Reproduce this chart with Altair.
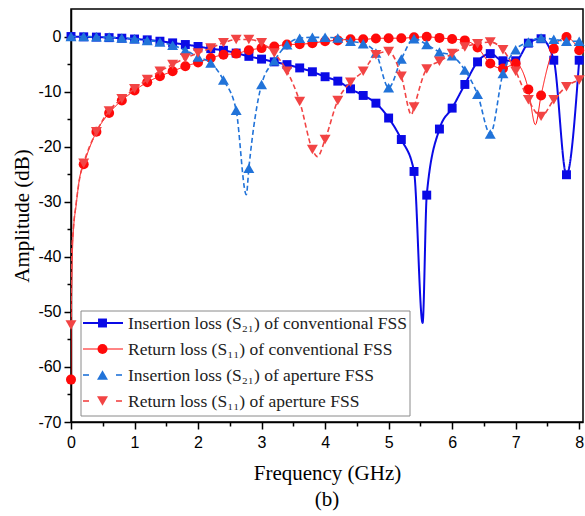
import altair as alt
import pandas as pd

# ---------------- data ----------------
freq = [0.0, 0.2, 0.4, 0.6, 0.8, 1.0, 1.2, 1.4, 1.6, 1.8, 2.0, 2.2, 2.4, 2.6, 2.8,
        3.0, 3.2, 3.4, 3.6, 3.8, 4.0, 4.2, 4.4, 4.6, 4.8, 5.0, 5.2, 5.4, 5.6, 5.8,
        6.0, 6.2, 6.4, 6.6, 6.8, 7.0, 7.2, 7.4, 7.6, 7.8, 8.0]

s21_conv = [0.0, -0.05, -0.1, -0.2, -0.3, -0.45, -0.6, -0.85, -1.15, -1.45, -1.8,
            -2.2, -2.5, -3.0, -3.6, -4.1, -4.6, -5.1, -5.7, -6.4, -7.3, -8.1, -9.5,
            -10.7, -12.1, -14.8, -18.7, -24.5, -28.8, -16.8, -13.0, -8.7, -4.6, -3.1,
            -4.4, -4.4, -1.2, -0.4, -4.3, -25.1, -4.3]
s11_conv = [-62.3, -23.2, -17.3, -13.9, -11.6, -9.8, -8.3, -7.2, -6.3, -5.4, -4.7,
            -3.9, -3.3, -3.1, -2.5, -2.1, -1.8, -1.45, -1.4, -1.2, -0.85, -0.7, -0.5,
            -0.5, -0.35, -0.3, -0.3, -0.15, -0.05, -0.25, -0.45, -0.7, -2.0, -4.9,
            -5.8, -4.9, -9.6, -10.7, -2.2, -0.1, -2.5]
s21_apt = [0.0, 0.0, -0.05, -0.1, -0.25, -0.4, -0.7, -1.0, -1.6, -2.5, -3.7, -4.8,
           -7.9, -13.4, -23.9, -8.7, -4.4, -1.5, -0.3, -0.15, -0.15, -0.25, -0.85,
           -1.3, -3.0, -9.3, -4.1, -0.4, -1.45, -2.8, -3.5, -6.1, -10.5, -17.7, -6.7,
           -2.4, -1.0, -0.25, -0.5, -0.85, -0.85]
s11_apt = [-52.4, -23.0, -17.3, -13.5, -11.3, -9.5, -7.8, -6.3, -5.1, -3.9, -3.0,
           -2.1, -1.15, -0.55, -0.55, -1.15, -3.0, -6.3, -11.8, -20.5, -18.7, -11.6,
           -8.3, -6.3, -3.3, -2.7, -7.2, -12.8, -5.9, -4.5, -3.1, -1.9, -1.3, -1.0,
           -2.4, -6.3, -11.5, -14.5, -11.5, -9.1, -7.9]

# extra curve points between markers (dips / steep parts of the traces)
s21_conv_extra_f = [5.535]
s21_conv_extra_v = [-52.0]
s11_conv_extra_f = [0.01, 0.036, 0.079, 0.14, 7.31]
s11_conv_extra_v = [-46.0, -35.7, -30.8, -25.4, -16.0]
s21_apt_extra_f = [2.76]
s21_apt_extra_v = [-28.7]
s11_apt_extra_f = [0.01, 0.036, 0.079, 0.14, 3.88, 5.36]
s11_apt_extra_v = [-40.0, -35.0, -30.5, -25.5, -21.8, -14.2]

labels = ["Insertion loss (S\u2082\u2081) of conventional FSS",
          "Return loss (S\u2081\u2081) of conventional FSS",
          "Insertion loss (S\u2082\u2081) of aperture FSS",
          "Return loss (S\u2081\u2081) of aperture FSS"]
colors = ["#0a0ae6", "#ff0a0a", "#2173d9", "#f24444"]
shapes = ["square", "circle", "triangle-up", "triangle-down"]
dashes = [[1, 0], [1, 0], [5, 3], [5, 3]]
widths = [2.0, 1.0, 1.6, 1.6]
msizes = [80, 100, 120, 120]

series_vals = [s21_conv, s11_conv, s21_apt, s11_apt]
extras = [(s21_conv_extra_f, s21_conv_extra_v), (s11_conv_extra_f, s11_conv_extra_v),
          (s21_apt_extra_f, s21_apt_extra_v), (s11_apt_extra_f, s11_apt_extra_v)]

W, H = 512, 413
xscale = alt.Scale(domain=[0, 8.06], nice=False, zero=False)
yscale = alt.Scale(domain=[-70, 5], nice=False, zero=False)

x_ticks = [i * 0.5 for i in range(17)]
y_ticks = [-70, -65, -60, -55, -50, -45, -40, -35, -30, -25, -20, -15, -10, -5, 0]

xaxis = alt.Axis(values=x_ticks, title="Frequency (GHz)",
                 labelExpr="datum.value % 1 === 0 ? '' + datum.value : ''",
                 tickSize={"condition": {"test": "datum.value % 1 === 0", "value": 7}, "value": 4},
                 grid=False, labelPadding=5, titlePadding=12, labelFlush=False)
yaxis = alt.Axis(values=y_ticks, title="Amplitude (dB)",
                 labelExpr="datum.value % 10 === 0 ? '' + datum.value : ''",
                 tickSize={"condition": {"test": "datum.value % 10 === 0", "value": 7}, "value": 4},
                 grid=False, labelPadding=3, titlePadding=5)

X = alt.X("f:Q", scale=xscale, axis=xaxis)
Y = alt.Y("v:Q", scale=yscale, axis=yaxis)

layers = []
for i in range(4):
    pts = pd.DataFrame({"f": freq, "v": series_vals[i]})
    ln = pd.concat([pts, pd.DataFrame({"f": extras[i][0], "v": extras[i][1]})]).sort_values("f")
    line = alt.Chart(ln).mark_line(color=colors[i], strokeWidth=widths[i],
                                   strokeDash=dashes[i], interpolate="monotone",
                                   clip=True).encode(x=X, y=Y)
    pt = alt.Chart(pts).mark_point(shape=shapes[i], filled=True, color=colors[i],
                                   opacity=1, size=msizes[i]).encode(x=X, y=Y)
    layers += [line, pt]

# ---------------- legend (drawn inside the plot, lower left) ----------------
anchor = pd.DataFrame({"a": [0]})
box = alt.Chart(anchor).mark_rect(fill="white", stroke="#8a8a8a", strokeWidth=1).encode(
    x=alt.value(10), x2=alt.value(339), y=alt.value(302), y2=alt.value(407))
layers.append(box)
row_y = [314, 340, 366, 392]
for i in range(4):
    yy = row_y[i]
    if dashes[i] == [1, 0]:
        segs = [(12, 52)]
    else:
        segs = [(12, 18), (45, 51)]
    for a, b in segs:
        layers.append(alt.Chart(anchor).mark_rule(color=colors[i], strokeWidth=widths[i] if i != 1 else 1.0).encode(
            x=alt.value(a), x2=alt.value(b), y=alt.value(yy)))
    layers.append(alt.Chart(anchor).mark_point(shape=shapes[i], filled=True, color=colors[i],
                                               opacity=1, size=msizes[i]).encode(
        x=alt.value(31.5), y=alt.value(yy)))
    layers.append(alt.Chart(anchor).mark_text(text=labels[i], align="left", baseline="middle",
                                              font="Liberation Serif", fontSize=17.5,
                                              color="#222").encode(
        x=alt.value(57), y=alt.value(yy + 1)))

# "(b)" caption under the axis title
layers.append(alt.Chart(anchor).mark_text(text="(b)", align="center", baseline="middle",
                                          font="Liberation Serif", fontSize=21,
                                          color="black").encode(
    x=alt.value(256), y=alt.value(491)))

chart = alt.layer(*layers).properties(
    width=W, height=H,
    autosize=alt.AutoSizeParams(type="none"),
    padding={"left": 71, "top": 9, "right": 2, "bottom": 94},
).configure_view(stroke="black", strokeWidth=1.5).configure_axis(
    domainColor="black", domainWidth=1.5, tickColor="black", tickWidth=1.5,
    labelFont="Liberation Sans", labelFontSize=16, labelColor="black",
    titleFont="Liberation Serif", titleFontSize=21, titleFontWeight="normal",
    titleColor="black",
)

chart.save("out.html", embed_options={"renderer": "svg", "actions": False})
